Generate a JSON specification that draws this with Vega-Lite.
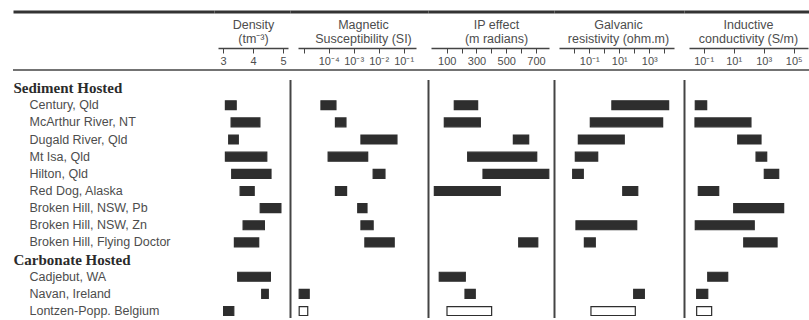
{
  "$schema": "https://vega.github.io/schema/vega-lite/v6.json",
  "padding": {"top": 11.5, "left": 12, "right": 0, "bottom": 0},
  "background": "white",
  "spacing": 0,
  "bounds": "flush",
  "config": {"view": {"stroke": null}, "axis": {"minExtent": 0, "maxExtent": 400}, "font": "Liberation Sans"},
  "datasets": {
    "frame": [{"line": "header"}],
    "bars": [
      {"host": "Sediment Hosted", "site": "Century, Qld", "property": "density", "lo": 3.08, "hi": 3.44, "basis": "measured"},
      {"host": "Sediment Hosted", "site": "McArthur River, NT", "property": "density", "lo": 3.27, "hi": 4.23, "basis": "measured"},
      {"host": "Sediment Hosted", "site": "Dugald River, Qld", "property": "density", "lo": 3.19, "hi": 3.51, "basis": "measured"},
      {"host": "Sediment Hosted", "site": "Mt Isa, Qld", "property": "density", "lo": 3.08, "hi": 4.46, "basis": "measured"},
      {"host": "Sediment Hosted", "site": "Hilton, Qld", "property": "density", "lo": 3.29, "hi": 4.6, "basis": "measured"},
      {"host": "Sediment Hosted", "site": "Red Dog, Alaska", "property": "density", "lo": 3.57, "hi": 4.04, "basis": "measured"},
      {"host": "Sediment Hosted", "site": "Broken Hill, NSW, Pb", "property": "density", "lo": 4.24, "hi": 4.93, "basis": "measured"},
      {"host": "Sediment Hosted", "site": "Broken Hill, NSW, Zn", "property": "density", "lo": 3.67, "hi": 4.38, "basis": "measured"},
      {"host": "Sediment Hosted", "site": "Broken Hill, Flying Doctor", "property": "density", "lo": 3.38, "hi": 4.19, "basis": "measured"},
      {"host": "Carbonate Hosted", "site": "Cadjebut, WA", "property": "density", "lo": 3.49, "hi": 4.58, "basis": "measured"},
      {"host": "Carbonate Hosted", "site": "Navan, Ireland", "property": "density", "lo": 4.29, "hi": 4.51, "basis": "measured"},
      {"host": "Carbonate Hosted", "site": "Lontzen-Popp. Belgium", "property": "density", "lo": 3.02, "hi": 3.36, "basis": "measured"},

      {"host": "Sediment Hosted", "site": "Century, Qld", "property": "magnetic", "lo": 4.9e-5, "hi": 1.95e-4, "basis": "measured"},
      {"host": "Sediment Hosted", "site": "McArthur River, NT", "property": "magnetic", "lo": 1.86e-4, "hi": 4.9e-4, "basis": "measured"},
      {"host": "Sediment Hosted", "site": "Dugald River, Qld", "property": "magnetic", "lo": 1.95e-3, "hi": 0.0537, "basis": "measured"},
      {"host": "Sediment Hosted", "site": "Mt Isa, Qld", "property": "magnetic", "lo": 9.5e-5, "hi": 3.63e-3, "basis": "measured"},
      {"host": "Sediment Hosted", "site": "Hilton, Qld", "property": "magnetic", "lo": 6.0e-3, "hi": 0.0178, "basis": "measured"},
      {"host": "Sediment Hosted", "site": "Red Dog, Alaska", "property": "magnetic", "lo": 1.86e-4, "hi": 5.2e-4, "basis": "measured"},
      {"host": "Sediment Hosted", "site": "Broken Hill, NSW, Pb", "property": "magnetic", "lo": 1.45e-3, "hi": 3.4e-3, "basis": "measured"},
      {"host": "Sediment Hosted", "site": "Broken Hill, NSW, Zn", "property": "magnetic", "lo": 1.95e-3, "hi": 6.0e-3, "basis": "measured"},
      {"host": "Sediment Hosted", "site": "Broken Hill, Flying Doctor", "property": "magnetic", "lo": 2.8e-3, "hi": 0.0417, "basis": "measured"},
      {"host": "Carbonate Hosted", "site": "Navan, Ireland", "property": "magnetic", "lo": 6.6e-6, "hi": 1.66e-5, "basis": "measured"},
      {"host": "Carbonate Hosted", "site": "Lontzen-Popp. Belgium", "property": "magnetic", "lo": 6.6e-6, "hi": 1.45e-5, "basis": "estimated"},

      {"host": "Sediment Hosted", "site": "Century, Qld", "property": "ip", "lo": 151, "hi": 308, "basis": "measured"},
      {"host": "Sediment Hosted", "site": "McArthur River, NT", "property": "ip", "lo": 84, "hi": 326, "basis": "measured"},
      {"host": "Sediment Hosted", "site": "Dugald River, Qld", "property": "ip", "lo": 548, "hi": 651, "basis": "measured"},
      {"host": "Sediment Hosted", "site": "Mt Isa, Qld", "property": "ip", "lo": 241, "hi": 705, "basis": "measured"},
      {"host": "Sediment Hosted", "site": "Hilton, Qld", "property": "ip", "lo": 344, "hi": 786, "basis": "measured"},
      {"host": "Sediment Hosted", "site": "Red Dog, Alaska", "property": "ip", "lo": 17, "hi": 460, "basis": "measured"},
      {"host": "Sediment Hosted", "site": "Broken Hill, Flying Doctor", "property": "ip", "lo": 584, "hi": 712, "basis": "measured"},
      {"host": "Carbonate Hosted", "site": "Cadjebut, WA", "property": "ip", "lo": 50, "hi": 225, "basis": "measured"},
      {"host": "Carbonate Hosted", "site": "Navan, Ireland", "property": "ip", "lo": 223, "hi": 292, "basis": "measured"},
      {"host": "Carbonate Hosted", "site": "Lontzen-Popp. Belgium", "property": "ip", "lo": 102, "hi": 402, "basis": "estimated"},

      {"host": "Sediment Hosted", "site": "Century, Qld", "property": "galvanic", "lo": 3.2, "hi": 19500, "basis": "measured"},
      {"host": "Sediment Hosted", "site": "McArthur River, NT", "property": "galvanic", "lo": 0.117, "hi": 7760, "basis": "measured"},
      {"host": "Sediment Hosted", "site": "Dugald River, Qld", "property": "galvanic", "lo": 0.0186, "hi": 21.4, "basis": "measured"},
      {"host": "Sediment Hosted", "site": "Mt Isa, Qld", "property": "galvanic", "lo": 0.0117, "hi": 0.363, "basis": "measured"},
      {"host": "Sediment Hosted", "site": "Hilton, Qld", "property": "galvanic", "lo": 0.0078, "hi": 0.0398, "basis": "measured"},
      {"host": "Sediment Hosted", "site": "Red Dog, Alaska", "property": "galvanic", "lo": 17, "hi": 170, "basis": "measured"},
      {"host": "Sediment Hosted", "site": "Broken Hill, NSW, Zn", "property": "galvanic", "lo": 0.0129, "hi": 145, "basis": "measured"},
      {"host": "Sediment Hosted", "site": "Broken Hill, Flying Doctor", "property": "galvanic", "lo": 0.047, "hi": 0.251, "basis": "measured"},
      {"host": "Carbonate Hosted", "site": "Navan, Ireland", "property": "galvanic", "lo": 91, "hi": 468, "basis": "measured"},
      {"host": "Carbonate Hosted", "site": "Lontzen-Popp. Belgium", "property": "galvanic", "lo": 0.129, "hi": 117, "basis": "estimated"},

      {"host": "Sediment Hosted", "site": "Century, Qld", "property": "inductive", "lo": 0.0275, "hi": 0.158, "basis": "measured"},
      {"host": "Sediment Hosted", "site": "McArthur River, NT", "property": "inductive", "lo": 0.0263, "hi": 141, "basis": "measured"},
      {"host": "Sediment Hosted", "site": "Dugald River, Qld", "property": "inductive", "lo": 18.6, "hi": 661, "basis": "measured"},
      {"host": "Sediment Hosted", "site": "Mt Isa, Qld", "property": "inductive", "lo": 309, "hi": 1585, "basis": "measured"},
      {"host": "Sediment Hosted", "site": "Hilton, Qld", "property": "inductive", "lo": 1096, "hi": 10000, "basis": "measured"},
      {"host": "Sediment Hosted", "site": "Red Dog, Alaska", "property": "inductive", "lo": 0.0437, "hi": 1.0, "basis": "measured"},
      {"host": "Sediment Hosted", "site": "Broken Hill, NSW, Pb", "property": "inductive", "lo": 10, "hi": 21400, "basis": "measured"},
      {"host": "Sediment Hosted", "site": "Broken Hill, NSW, Zn", "property": "inductive", "lo": 0.0275, "hi": 234, "basis": "measured"},
      {"host": "Sediment Hosted", "site": "Broken Hill, Flying Doctor", "property": "inductive", "lo": 46.8, "hi": 7760, "basis": "measured"},
      {"host": "Carbonate Hosted", "site": "Cadjebut, WA", "property": "inductive", "lo": 0.186, "hi": 3.98, "basis": "measured"},
      {"host": "Carbonate Hosted", "site": "Navan, Ireland", "property": "inductive", "lo": 0.0339, "hi": 0.186, "basis": "measured"},
      {"host": "Carbonate Hosted", "site": "Lontzen-Popp. Belgium", "property": "inductive", "lo": 0.0339, "hi": 0.339, "basis": "estimated"}
    ]
  },
  "hconcat": [
    {
      "width": 201, "height": 306,
      "data": {"name": "frame"},
      "mark": {"type": "rule", "color": "#444", "strokeWidth": 1.5},
      "encoding": {
        "x": {"datum": 0, "type": "quantitative", "scale": {"domain": [0, 1], "nice": false, "zero": false},
              "axis": {"orient": "top", "offset": 0, "domain": true, "domainColor": "#333", "domainWidth": 3, "ticks": false, "labels": false, "grid": false, "title": null}},
        "x2": {"datum": 1},
        "y": {"datum": "Sediment Hosted", "type": "nominal", "bandPosition": -0.554,
              "scale": {"domain": ["Sediment Hosted", "Century, Qld", "McArthur River, NT", "Dugald River, Qld", "Mt Isa, Qld", "Hilton, Qld", "Red Dog, Alaska", "Broken Hill, NSW, Pb", "Broken Hill, NSW, Zn", "Broken Hill, Flying Doctor", "Carbonate Hosted", "Cadjebut, WA", "Navan, Ireland", "Lontzen-Popp. Belgium"], "range": [68, 308.1], "paddingInner": 0, "paddingOuter": 0, "round": false},
              "axis": {"orient": "left", "domain": false, "ticks": false, "tickSize": 0, "grid": false, "title": null, "minExtent": 0,
                       "labelAlign": "left", "labelBaseline": "middle", "labelLimit": 0, "labelOverlap": false,
                       "labelPadding": {"condition": {"test": "datum.value === 'Sediment Hosted' || datum.value === 'Carbonate Hosted'", "value": 0}, "value": -16},
                       "labelFont": {"condition": {"test": "datum.value === 'Sediment Hosted' || datum.value === 'Carbonate Hosted'", "value": "Liberation Serif"}, "value": "Liberation Sans"},
                       "labelFontSize": {"condition": {"test": "datum.value === 'Sediment Hosted' || datum.value === 'Carbonate Hosted'", "value": 15}, "value": 12.5},
                       "labelFontWeight": {"condition": {"test": "datum.value === 'Sediment Hosted' || datum.value === 'Carbonate Hosted'", "value": "bold"}, "value": "normal"},
                       "labelColor": {"condition": {"test": "datum.value === 'Sediment Hosted' || datum.value === 'Carbonate Hosted'", "value": "#2b2b2b"}, "value": "#4d4d4d"}}}
      }
    },
    {
      "width": 76, "height": 306,
      "resolve": {"scale": {"x": "independent"}, "axis": {"x": "independent"}},
      "layer": [
        {
          "data": {"name": "bars"},
          "transform": [{"filter": "datum.property === 'density'"}],
          "mark": {"type": "bar", "height": {"band": 0.52}, "stroke": "#2e2e2e", "strokeWidth": 1.2},
          "encoding": {
            "x": {"field": "lo", "type": "quantitative", "scale": {"domain": [2.8333, 5.1667], "range": [4, 74], "nice": false, "zero": false},
                  "axis": {"orient": "top", "offset": -36.5, "values": [3, 4, 5], "format": "d", "tickSize": -5, "tickColor": "#444", "tickWidth": 1, "domainColor": "#444", "domainWidth": 1.5, "labelPadding": -8, "labelBaseline": "middle", "labelFontSize": 11, "labelColor": "#4d4d4d", "labelFlush": false, "labelOverlap": false, "labelAngle": 0, "grid": false,
                           "title": ["Density", "(tm⁻³)"], "titleFontSize": 12.5, "titleFontWeight": "normal", "titleColor": "#4d4d4d", "titleLineHeight": 14, "titleBaseline": "top", "titleY": -30, "titleX": 39, "titleAlign": "center"}},
            "x2": {"field": "hi"},
            "y": {"field": "site", "type": "nominal",
                  "scale": {"domain": ["Sediment Hosted", "Century, Qld", "McArthur River, NT", "Dugald River, Qld", "Mt Isa, Qld", "Hilton, Qld", "Red Dog, Alaska", "Broken Hill, NSW, Pb", "Broken Hill, NSW, Zn", "Broken Hill, Flying Doctor", "Carbonate Hosted", "Cadjebut, WA", "Navan, Ireland", "Lontzen-Popp. Belgium"], "range": [68, 308.1], "paddingInner": 0, "paddingOuter": 0, "round": false},
                  "axis": null},
            "fill": {"field": "basis", "type": "nominal", "scale": {"domain": ["measured", "estimated"], "range": ["#2e2e2e", "#ffffff"]}, "legend": null}
          }
        },
        {
          "data": {"name": "frame"},
          "mark": {"type": "rule", "color": "#444", "strokeWidth": 1.5},
          "encoding": {
            "x": {"datum": 0, "type": "quantitative", "scale": {"domain": [0, 1], "nice": false, "zero": false},
                  "axis": {"orient": "top", "offset": 0, "domain": true, "domainColor": "#333", "domainWidth": 3, "ticks": false, "labels": false, "grid": false, "title": null}},
            "x2": {"datum": 1},
            "y": {"datum": "Sediment Hosted", "type": "nominal", "bandPosition": -0.554,
                  "scale": {"domain": ["Sediment Hosted", "Century, Qld", "McArthur River, NT", "Dugald River, Qld", "Mt Isa, Qld", "Hilton, Qld", "Red Dog, Alaska", "Broken Hill, NSW, Pb", "Broken Hill, NSW, Zn", "Broken Hill, Flying Doctor", "Carbonate Hosted", "Cadjebut, WA", "Navan, Ireland", "Lontzen-Popp. Belgium"], "range": [68, 308.1], "paddingInner": 0, "paddingOuter": 0, "round": false},
                  "axis": null}
          }
        }
      ]
    },
    {
      "width": 138, "height": 306,
      "resolve": {"scale": {"x": "independent"}, "axis": {"x": "independent"}},
      "layer": [
        {
          "data": {"name": "bars"},
          "transform": [{"filter": "datum.property === 'magnetic'"}],
          "mark": {"type": "bar", "height": {"band": 0.52}, "stroke": "#2e2e2e", "strokeWidth": 1.2},
          "encoding": {
            "x": {"field": "lo", "type": "quantitative", "scale": {"type": "log", "domain": [5.916e-6, 0.3105], "range": [8, 126], "nice": false},
                  "axis": {"orient": "top", "offset": -36.5, "values": [1e-5, 1e-4, 1e-3, 1e-2, 1e-1],
                           "labelExpr": "datum.value < 5e-5 ? '' : datum.value < 5e-4 ? '10⁻⁴' : datum.value < 5e-3 ? '10⁻³' : datum.value < 5e-2 ? '10⁻²' : '10⁻¹'",
                           "tickSize": -5, "tickColor": "#444", "tickWidth": 1, "domainColor": "#444", "domainWidth": 1.5, "labelPadding": -8, "labelBaseline": "middle", "labelFontSize": 11, "labelColor": "#4d4d4d", "labelFlush": false, "labelOverlap": false, "labelAngle": 0, "grid": false,
                           "title": ["Magnetic", "Susceptibility (SI)"], "titleFontSize": 12.5, "titleFontWeight": "normal", "titleColor": "#4d4d4d", "titleLineHeight": 14, "titleBaseline": "top", "titleY": -30, "titleX": 73, "titleAlign": "center"}},
            "x2": {"field": "hi"},
            "y": {"field": "site", "type": "nominal",
                  "scale": {"domain": ["Sediment Hosted", "Century, Qld", "McArthur River, NT", "Dugald River, Qld", "Mt Isa, Qld", "Hilton, Qld", "Red Dog, Alaska", "Broken Hill, NSW, Pb", "Broken Hill, NSW, Zn", "Broken Hill, Flying Doctor", "Carbonate Hosted", "Cadjebut, WA", "Navan, Ireland", "Lontzen-Popp. Belgium"], "range": [68, 308.1], "paddingInner": 0, "paddingOuter": 0, "round": false},
                  "axis": null},
            "fill": {"field": "basis", "type": "nominal", "scale": {"domain": ["measured", "estimated"], "range": ["#2e2e2e", "#ffffff"]}, "legend": null}
          }
        },
        {
          "data": {"name": "frame"},
          "mark": {"type": "rule", "color": "#444", "strokeWidth": 1.5},
          "encoding": {
            "x": {"datum": 0, "type": "quantitative", "scale": {"domain": [0, 1], "nice": false, "zero": false},
                  "axis": {"orient": "top", "offset": 0, "domain": true, "domainColor": "#333", "domainWidth": 3, "ticks": false, "labels": false, "title": null, "grid": true, "values": [0], "gridColor": "#444", "gridWidth": 2}},
            "x2": {"datum": 1},
            "y": {"datum": "Sediment Hosted", "type": "nominal", "bandPosition": -0.554,
                  "scale": {"domain": ["Sediment Hosted", "Century, Qld", "McArthur River, NT", "Dugald River, Qld", "Mt Isa, Qld", "Hilton, Qld", "Red Dog, Alaska", "Broken Hill, NSW, Pb", "Broken Hill, NSW, Zn", "Broken Hill, Flying Doctor", "Carbonate Hosted", "Cadjebut, WA", "Navan, Ireland", "Lontzen-Popp. Belgium"], "range": [68, 308.1], "paddingInner": 0, "paddingOuter": 0, "round": false},
                  "axis": null}
          }
        }
      ]
    },
    {
      "width": 126, "height": 306,
      "resolve": {"scale": {"x": "independent"}, "axis": {"x": "independent"}},
      "layer": [
        {
          "data": {"name": "bars"},
          "transform": [{"filter": "datum.property === 'ip'"}],
          "mark": {"type": "bar", "height": {"band": 0.52}, "stroke": "#2e2e2e", "strokeWidth": 1.2},
          "encoding": {
            "x": {"field": "lo", "type": "quantitative", "scale": {"domain": [-5.5, 787.5], "range": [3, 121], "nice": false, "zero": false},
                  "axis": {"orient": "top", "offset": -36.5, "values": [100, 200, 300, 400, 500, 600, 700],
                           "labelExpr": "datum.value % 200 === 100 ? datum.label : ''",
                           "tickSize": -5, "tickColor": "#444", "tickWidth": 1, "domainColor": "#444", "domainWidth": 1.5, "labelPadding": -8, "labelBaseline": "middle", "labelFontSize": 11, "labelColor": "#4d4d4d", "labelFlush": false, "labelOverlap": false, "labelAngle": 0, "grid": false,
                           "title": ["IP effect", "(m radians)"], "titleFontSize": 12.5, "titleFontWeight": "normal", "titleColor": "#4d4d4d", "titleLineHeight": 14, "titleBaseline": "top", "titleY": -30, "titleX": 68, "titleAlign": "center"}},
            "x2": {"field": "hi"},
            "y": {"field": "site", "type": "nominal",
                  "scale": {"domain": ["Sediment Hosted", "Century, Qld", "McArthur River, NT", "Dugald River, Qld", "Mt Isa, Qld", "Hilton, Qld", "Red Dog, Alaska", "Broken Hill, NSW, Pb", "Broken Hill, NSW, Zn", "Broken Hill, Flying Doctor", "Carbonate Hosted", "Cadjebut, WA", "Navan, Ireland", "Lontzen-Popp. Belgium"], "range": [68, 308.1], "paddingInner": 0, "paddingOuter": 0, "round": false},
                  "axis": null},
            "fill": {"field": "basis", "type": "nominal", "scale": {"domain": ["measured", "estimated"], "range": ["#2e2e2e", "#ffffff"]}, "legend": null}
          }
        },
        {
          "data": {"name": "frame"},
          "mark": {"type": "rule", "color": "#444", "strokeWidth": 1.5},
          "encoding": {
            "x": {"datum": 0, "type": "quantitative", "scale": {"domain": [0, 1], "nice": false, "zero": false},
                  "axis": {"orient": "top", "offset": 0, "domain": true, "domainColor": "#333", "domainWidth": 3, "ticks": false, "labels": false, "title": null, "grid": true, "values": [0], "gridColor": "#444", "gridWidth": 2}},
            "x2": {"datum": 1},
            "y": {"datum": "Sediment Hosted", "type": "nominal", "bandPosition": -0.554,
                  "scale": {"domain": ["Sediment Hosted", "Century, Qld", "McArthur River, NT", "Dugald River, Qld", "Mt Isa, Qld", "Hilton, Qld", "Red Dog, Alaska", "Broken Hill, NSW, Pb", "Broken Hill, NSW, Zn", "Broken Hill, Flying Doctor", "Carbonate Hosted", "Cadjebut, WA", "Navan, Ireland", "Lontzen-Popp. Belgium"], "range": [68, 308.1], "paddingInner": 0, "paddingOuter": 0, "round": false},
                  "axis": null}
          }
        }
      ]
    },
    {
      "width": 130, "height": 306,
      "resolve": {"scale": {"x": "independent"}, "axis": {"x": "independent"}},
      "layer": [
        {
          "data": {"name": "bars"},
          "transform": [{"filter": "datum.property === 'galvanic'"}],
          "mark": {"type": "bar", "height": {"band": 0.52}, "stroke": "#2e2e2e", "strokeWidth": 1.2},
          "encoding": {
            "x": {"field": "lo", "type": "quantitative", "scale": {"type": "log", "domain": [9.55e-4, 44360], "range": [5, 120], "nice": false},
                  "axis": {"orient": "top", "offset": -36.5, "values": [0.01, 0.1, 1, 10, 100, 1000, 10000],
                           "labelExpr": "datum.value > 0.05 && datum.value < 0.5 ? '10⁻¹' : datum.value > 5 && datum.value < 50 ? '10¹' : datum.value > 500 && datum.value < 5000 ? '10³' : ''",
                           "tickSize": -5, "tickColor": "#444", "tickWidth": 1, "domainColor": "#444", "domainWidth": 1.5, "labelPadding": -8, "labelBaseline": "middle", "labelFontSize": 11, "labelColor": "#4d4d4d", "labelFlush": false, "labelOverlap": false, "labelAngle": 0, "grid": false,
                           "title": ["Galvanic", "resistivity (ohm.m)"], "titleFontSize": 12.5, "titleFontWeight": "normal", "titleColor": "#4d4d4d", "titleLineHeight": 14, "titleBaseline": "top", "titleY": -30, "titleX": 64, "titleAlign": "center"}},
            "x2": {"field": "hi"},
            "y": {"field": "site", "type": "nominal",
                  "scale": {"domain": ["Sediment Hosted", "Century, Qld", "McArthur River, NT", "Dugald River, Qld", "Mt Isa, Qld", "Hilton, Qld", "Red Dog, Alaska", "Broken Hill, NSW, Pb", "Broken Hill, NSW, Zn", "Broken Hill, Flying Doctor", "Carbonate Hosted", "Cadjebut, WA", "Navan, Ireland", "Lontzen-Popp. Belgium"], "range": [68, 308.1], "paddingInner": 0, "paddingOuter": 0, "round": false},
                  "axis": null},
            "fill": {"field": "basis", "type": "nominal", "scale": {"domain": ["measured", "estimated"], "range": ["#2e2e2e", "#ffffff"]}, "legend": null}
          }
        },
        {
          "data": {"name": "frame"},
          "mark": {"type": "rule", "color": "#444", "strokeWidth": 1.5},
          "encoding": {
            "x": {"datum": 0, "type": "quantitative", "scale": {"domain": [0, 1], "nice": false, "zero": false},
                  "axis": {"orient": "top", "offset": 0, "domain": true, "domainColor": "#333", "domainWidth": 3, "ticks": false, "labels": false, "title": null, "grid": true, "values": [0], "gridColor": "#444", "gridWidth": 2}},
            "x2": {"datum": 1},
            "y": {"datum": "Sediment Hosted", "type": "nominal", "bandPosition": -0.554,
                  "scale": {"domain": ["Sediment Hosted", "Century, Qld", "McArthur River, NT", "Dugald River, Qld", "Mt Isa, Qld", "Hilton, Qld", "Red Dog, Alaska", "Broken Hill, NSW, Pb", "Broken Hill, NSW, Zn", "Broken Hill, Flying Doctor", "Carbonate Hosted", "Cadjebut, WA", "Navan, Ireland", "Lontzen-Popp. Belgium"], "range": [68, 308.1], "paddingInner": 0, "paddingOuter": 0, "round": false},
                  "axis": null}
          }
        }
      ]
    },
    {
      "width": 125, "height": 306,
      "resolve": {"scale": {"x": "independent"}, "axis": {"x": "independent"}},
      "layer": [
        {
          "data": {"name": "bars"},
          "transform": [{"filter": "datum.property === 'inductive'"}],
          "mark": {"type": "bar", "height": {"band": 0.52}, "stroke": "#2e2e2e", "strokeWidth": 1.2},
          "encoding": {
            "x": {"field": "lo", "type": "quantitative", "scale": {"type": "log", "domain": [0.01047, 897500], "range": [5, 124], "nice": false},
                  "axis": {"orient": "top", "offset": -36.5, "values": [0.1, 10, 1000, 100000],
                           "labelExpr": "datum.value < 1 ? '10⁻¹' : datum.value < 100 ? '10¹' : datum.value < 10000 ? '10³' : '10⁵'",
                           "tickSize": -5, "tickColor": "#444", "tickWidth": 1, "domainColor": "#444", "domainWidth": 1.5, "labelPadding": -8, "labelBaseline": "middle", "labelFontSize": 11, "labelColor": "#4d4d4d", "labelFlush": false, "labelOverlap": false, "labelAngle": 0, "grid": false,
                           "title": ["Inductive", "conductivity (S/m)"], "titleFontSize": 12.5, "titleFontWeight": "normal", "titleColor": "#4d4d4d", "titleLineHeight": 14, "titleBaseline": "top", "titleY": -30, "titleX": 64, "titleAlign": "center"}},
            "x2": {"field": "hi"},
            "y": {"field": "site", "type": "nominal",
                  "scale": {"domain": ["Sediment Hosted", "Century, Qld", "McArthur River, NT", "Dugald River, Qld", "Mt Isa, Qld", "Hilton, Qld", "Red Dog, Alaska", "Broken Hill, NSW, Pb", "Broken Hill, NSW, Zn", "Broken Hill, Flying Doctor", "Carbonate Hosted", "Cadjebut, WA", "Navan, Ireland", "Lontzen-Popp. Belgium"], "range": [68, 308.1], "paddingInner": 0, "paddingOuter": 0, "round": false},
                  "axis": null},
            "fill": {"field": "basis", "type": "nominal", "scale": {"domain": ["measured", "estimated"], "range": ["#2e2e2e", "#ffffff"]}, "legend": null}
          }
        },
        {
          "data": {"name": "frame"},
          "mark": {"type": "rule", "color": "#444", "strokeWidth": 1.5},
          "encoding": {
            "x": {"datum": 0, "type": "quantitative", "scale": {"domain": [0, 1], "nice": false, "zero": false},
                  "axis": {"orient": "top", "offset": 0, "domain": true, "domainColor": "#333", "domainWidth": 3, "ticks": false, "labels": false, "title": null, "grid": true, "values": [0], "gridColor": "#444", "gridWidth": 2}},
            "x2": {"datum": 1},
            "y": {"datum": "Sediment Hosted", "type": "nominal", "bandPosition": -0.554,
                  "scale": {"domain": ["Sediment Hosted", "Century, Qld", "McArthur River, NT", "Dugald River, Qld", "Mt Isa, Qld", "Hilton, Qld", "Red Dog, Alaska", "Broken Hill, NSW, Pb", "Broken Hill, NSW, Zn", "Broken Hill, Flying Doctor", "Carbonate Hosted", "Cadjebut, WA", "Navan, Ireland", "Lontzen-Popp. Belgium"], "range": [68, 308.1], "paddingInner": 0, "paddingOuter": 0, "round": false},
                  "axis": null}
          }
        }
      ]
    }
  ]
}
